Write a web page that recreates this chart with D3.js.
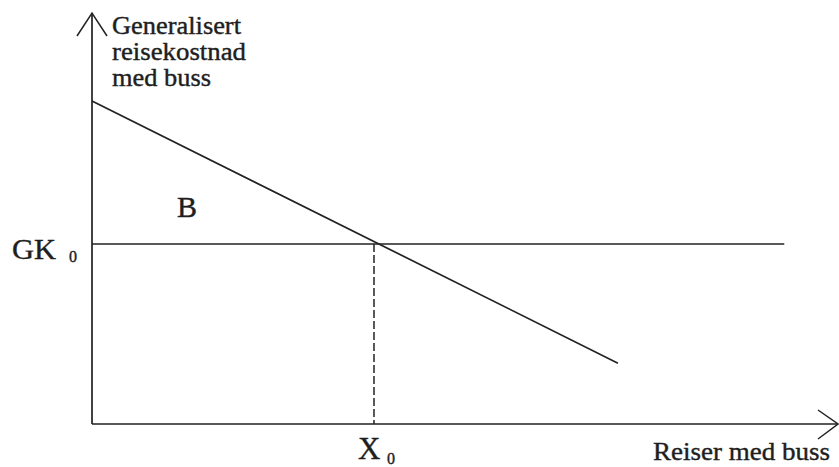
<!DOCTYPE html>
<html>
<head>
<meta charset="utf-8">
<script src="https://cdn.jsdelivr.net/npm/d3@7"></script>
<style>
  body { margin: 0; background: #fff; }
  svg { display: block; }
  .label { font-family: "Liberation Serif", "Times New Roman", serif; fill: #1e1e1e; stroke: #1e1e1e; stroke-width: 0.4; }
</style>
</head>
<body>
<svg id="chart" width="839" height="467"></svg>
<script>
// values in abstract diagram units (0..100 on both axes)
const demandX = [0, 70.5];
const demandY = [78.6, 14.8];
const gk0Level = 43.8;
const gk0LineEnd = 92.8;
const x0Value = 37.8;
const yTitleLines = ["Generalisert", "reisekostnad", "med buss"];
const xTitle = "Reiser med buss";

var svg = d3.select("#chart");
const ink = "#222";

var xScale = d3.scaleLinear().domain([0, 100]).range([92, 838]);
var yScale = d3.scaleLinear().domain([0, 100]).range([424, 13]);
var line = d3.line().x(d => xScale(d[0])).y(d => yScale(d[1]));

// axes with open arrow heads
svg.append("path")
    .attr("fill", "none").attr("stroke", ink).attr("stroke-width", 1.7)
    .attr("d", line([[0, 0], [0, 100]]) + line([[0, 0], [100, 0]]));
svg.append("path")
    .attr("fill", "none").attr("stroke", ink).attr("stroke-width", 1.5)
    .attr("d", "M" + (xScale(0) - 15) + "," + (yScale(100) + 23) + "L" + xScale(0) + "," + yScale(100) +
               "L" + (xScale(0) + 15) + "," + (yScale(100) + 23));
svg.append("path")
    .attr("fill", "none").attr("stroke", ink).attr("stroke-width", 1.5)
    .attr("d", "M" + (xScale(100) - 20) + "," + (yScale(0) - 14) + "L" + xScale(100) + "," + yScale(0) +
               "L" + (xScale(100) - 20) + "," + (yScale(0) + 15));

// GK0 level
svg.append("path")
    .attr("fill", "none").attr("stroke", ink).attr("stroke-width", 1.7)
    .attr("d", line([[0, gk0Level], [gk0LineEnd, gk0Level]]));

// demand line
svg.append("path")
    .attr("fill", "none").attr("stroke", ink).attr("stroke-width", 1.7)
    .attr("d", line(demandX.map((x, i) => [x, demandY[i]])));

// dashed drop line at X0
svg.append("path")
    .attr("fill", "none").attr("stroke", ink).attr("stroke-width", 1.5)
    .attr("stroke-dasharray", "8,3")
    .attr("d", line([[x0Value, gk0Level], [x0Value, 0]]));

// y title
svg.append("g").selectAll("text")
    .data(yTitleLines).enter()
    .append("text").attr("class", "label")
    .attr("x", 112)
    .attr("y", (d, i) => 34 + i * 26)
    .attr("font-size", 25)
    .attr("textLength", (d, i) => [129, 134, 99][i])
    .attr("lengthAdjust", "spacingAndGlyphs")
    .text(d => d);

// GK 0
svg.append("text").attr("class", "label")
    .attr("x", 12).attr("y", 259).attr("font-size", 30)
    .attr("textLength", 44).attr("lengthAdjust", "spacingAndGlyphs")
    .text("GK");
svg.append("text").attr("class", "label")
    .attr("x", 69).attr("y", 262).attr("font-size", 16)
    .text("0");

// B
svg.append("text").attr("class", "label")
    .attr("x", 177).attr("y", 217).attr("font-size", 30)
    .text("B");

// X 0
svg.append("text").attr("class", "label")
    .attr("x", 358).attr("y", 459).attr("font-size", 31)
    .text("X");
svg.append("text").attr("class", "label")
    .attr("x", 387).attr("y", 464).attr("font-size", 16)
    .text("0");

// x title
svg.append("text").attr("class", "label")
    .attr("x", 653).attr("y", 460).attr("font-size", 26)
    .attr("textLength", 177).attr("lengthAdjust", "spacingAndGlyphs")
    .text(xTitle);
</script>
</body>
</html>
